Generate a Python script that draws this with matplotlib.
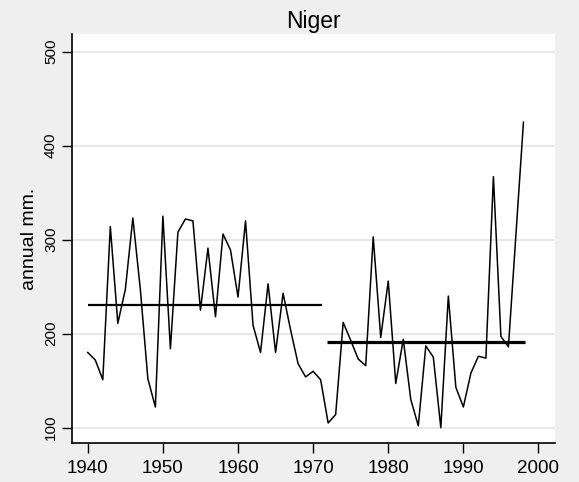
import matplotlib
matplotlib.use("Agg")
import matplotlib.pyplot as plt
import numpy as np

plt.rcParams['font.family'] = ['Liberation Sans', 'DejaVu Sans']

years = [1940, 1941, 1942, 1943, 1944, 1945, 1946, 1947, 1948, 1949,
         1950, 1951, 1952, 1953, 1954, 1955, 1956, 1957, 1958, 1959,
         1960, 1961, 1962, 1963, 1964, 1965, 1966, 1967, 1968, 1969,
         1970, 1971, 1972, 1973, 1974, 1975, 1976, 1977, 1978, 1979,
         1980, 1981, 1982, 1983, 1984, 1985, 1986, 1987, 1988, 1989,
         1990, 1991, 1992, 1993, 1994, 1995, 1996, 1998]
rain = [180, 172, 151, 314, 211, 247, 323, 247, 152, 122,
        325, 184, 308, 322, 320, 225, 291, 218, 306, 289,
        239, 320, 209, 180, 253, 180, 243, 204, 168, 154,
        160, 151, 105, 114, 212, 193, 173, 166, 303, 196,
        256, 147, 194, 130, 102, 187, 175, 100, 240, 143,
        122, 158, 176, 174, 367, 197, 186, 425]

period1 = [1940, 1971.2]
mean1 = 230.5
period2 = [1971.9, 1998.2]
mean2 = 190.8

xticks = [1940, 1950, 1960, 1970, 1980, 1990, 2000]
yticks = [100, 200, 300, 400, 500]

fig = plt.figure(figsize=(5.79, 4.82), dpi=100, facecolor='#efefef')
ax = fig.add_axes([72/579, 1-443/482, (555-72)/579, (443-34)/482])
ax.set_facecolor('white')

ax.plot(years, rain, color='black', lw=1.1, zorder=3)
ax.plot(period1, [mean1, mean1], color='black', lw=1.6, zorder=4, solid_capstyle='butt')
ax.plot(period2, [mean2, mean2], color='black', lw=2.3, zorder=4, solid_capstyle='butt')

ax.set_xlim(1937.9, 2002.2)
ax.set_ylim(83.7, 518.8)
ax.set_xticks(xticks)
ax.set_yticks(yticks)
ax.set_yticklabels([str(v) for v in yticks], rotation=90, va='center')
ax.tick_params(axis='x', labelsize=13.5, length=7, width=1.0, color='black', pad=5)
ax.tick_params(axis='y', labelsize=11, length=7, width=1.0, color='black', pad=3)
ax.yaxis.grid(True, color='#e6e6e6', lw=1.3, zorder=0)
ax.set_axisbelow(True)
for s in ['top', 'right']:
    ax.spines[s].set_visible(False)
for s in ['left', 'bottom']:
    ax.spines[s].set_linewidth(1.2)
ax.set_ylabel('annual mm.', fontsize=14, va='center')
ax.yaxis.set_label_coords((30-72)/483, 0.5)
ax.set_title('Niger', fontsize=16.5, pad=4)

fig.savefig('out.png', dpi=100, facecolor=fig.get_facecolor())
